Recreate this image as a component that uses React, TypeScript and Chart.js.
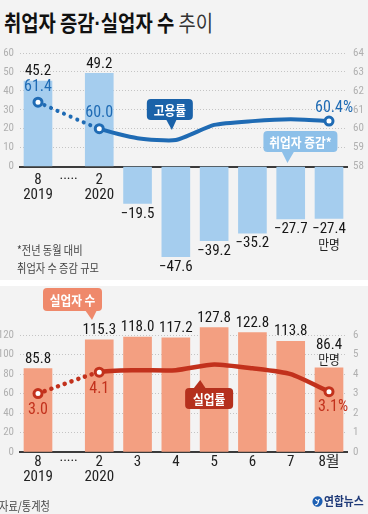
import React, { useEffect, useLayoutEffect, useRef } from 'react';
import { Chart, registerables } from 'chart.js';

Chart.register(...registerables);

// ---------------- data ----------------
const months = ['8', '2', '3', '4', '5', '6', '7', '8월'];
const years = ['2019', '2020', '', '', '', '', '', ''];
const gapLabel = '·····';
const employmentChange = [45.2, 49.2, -19.5, -47.6, -39.2, -35.2, -27.7, -27.4]; // 만명
const employmentRate = [61.4, 60.0, 59.5, 59.4, 60.2, 60.4, 60.5, 60.4]; // %
const unemployed = [85.8, 115.3, 118.0, 117.2, 127.8, 122.8, 113.8, 86.4]; // 만명
const unemploymentRate = [3.0, 4.1, 4.2, 4.2, 4.5, 4.3, 4.0, 3.1]; // %
const topLeftTicks = [0, 10, 20, 30, 40, 50, 60];
const topRightTicks = [58, 59, 60, 61, 62, 63, 64];
const bottomLeftTicks = [0, 20, 40, 60, 80, 100, 120];
const bottomRightTicks = [0, 1, 2, 3, 4, 5, 6];
const markedPoints = [0, 1, 7];

// ---------------- style ----------------
const NUM = "'Liberation Sans Narrow', 'Arial Narrow', 'Roboto Condensed', 'Noto Sans CJK KR', sans-serif";
const KR = "'Noto Sans CJK KR', 'Noto Sans', sans-serif";
const BLUE = '#1f6bb4';
const BAR_BLUE = '#a5cdee';
const CALL_BLUE_DARK = '#1a62a9';
const CALL_BLUE_LIGHT = '#8dc0e9';
const RED = '#c2311c';
const BAR_SALMON = '#f39f81';
const CALL_SALMON = '#ef896b';
const CALL_RED = '#b5301d';
const BG = '#f3f3f3';

// category index -> position on a linear axis (axis break after the first one)
const BREAK = 0.6;
const xOf = (i: number) => (i === 0 ? 0 : i + BREAK);
const gapX = (xOf(0) + xOf(1)) / 2;
const xTickValues = [xOf(0), gapX, ...months.slice(1).map((_, k) => xOf(k + 1))];

function xLabel(v: number): any {
  if (Math.abs(v - gapX) < 1e-6) return gapLabel;
  const i = months.findIndex((_, k) => Math.abs(xOf(k) - v) < 1e-6);
  if (i < 0) return '';
  return years[i] ? [months[i], years[i]] : months[i];
}

function fmt(v: number) {
  return v < 0 ? '\u2212' + Math.abs(v).toFixed(1) : v.toFixed(1);
}

function txt(ctx: CanvasRenderingContext2D, s: string, x: number, y: number, font: string, color: string, align: CanvasTextAlign = 'center', sx = 1) {
  ctx.save();
  ctx.font = font;
  ctx.fillStyle = color;
  ctx.textAlign = align;
  ctx.textBaseline = 'middle';
  ctx.translate(x, y);
  ctx.scale(sx, 1);
  ctx.fillText(s, 0, 0);
  ctx.restore();
}

function callout(ctx: CanvasRenderingContext2D, x: number, y: number, w: number, h: number, fill: string, label: string, tip: number[], base: number[]) {
  ctx.save();
  ctx.fillStyle = fill;
  ctx.beginPath();
  const r = 4;
  ctx.moveTo(x + r, y);
  ctx.arcTo(x + w, y, x + w, y + h, r);
  ctx.arcTo(x + w, y + h, x, y + h, r);
  ctx.arcTo(x, y + h, x, y, r);
  ctx.arcTo(x, y, x + w, y, r);
  ctx.closePath();
  ctx.fill();
  const by = tip[1] > y + h ? y + h - 1 : y + 1;
  ctx.beginPath();
  ctx.moveTo(base[0], by);
  ctx.lineTo(tip[0], tip[1]);
  ctx.lineTo(base[1], by);
  ctx.closePath();
  ctx.fill();
  ctx.restore();
  txt(ctx, label, x + w / 2, y + h / 2 + 0.5, `bold 13px ${KR}`, '#ffffff', 'center', 0.9);
}

function xScale(extra: any) {
  return {
    type: 'linear',
    min: -0.47,
    max: 8.07,
    offset: false,
    afterBuildTicks: (s: any) => {
      s.ticks = xTickValues.map((v) => ({ value: v }));
    },
    ticks: {
      autoSkip: false,
      maxRotation: 0,
      minRotation: 0,
      color: '#222',
      font: { family: NUM, size: 15, lineHeight: 1.0 },
      callback: (v: number) => xLabel(v),
      ...extra.ticks,
    },
    grid: { display: false, drawTicks: false },
    border: { display: true, color: '#3b3b3b', width: 2 },
    ...extra.rest,
  };
}

function yScale(pos: 'left' | 'right', min: number, max: number, shown: number[], width: number, grid: boolean) {
  return {
    type: 'linear',
    position: pos,
    min,
    max,
    afterBuildTicks: (s: any) => {
      s.ticks = shown.map((v) => ({ value: v }));
    },
    afterFit: (s: any) => {
      s.width = width;
    },
    ticks: {
      color: '#b0b0b0',
      font: { family: NUM, size: 11 },
      padding: 6,
    },
    grid: grid
      ? {
          drawTicks: false,
          lineWidth: 1,
          color: (c: any) => (c.tick && c.tick.value > shown[0] ? '#c4c4c4' : 'rgba(0,0,0,0)'),
        }
      : { display: false, drawTicks: false },
    border: { display: false, dash: [1, 2] },
  };
}

function lineDataset(values: number[], color: string, width: number) {
  return {
    type: 'line',
    data: values.map((v, i) => ({ x: xOf(i), y: v })),
    yAxisID: 'y1',
    borderColor: color,
    borderWidth: width,
    tension: 0.2,
    borderCapStyle: 'round',
    borderJoinStyle: 'round',
    pointRadius: (c: any) => (markedPoints.includes(c.dataIndex) ? 4 : 0),
    pointBackgroundColor: '#ffffff',
    pointBorderColor: color,
    pointBorderWidth: 3,
    segment: {
      borderDash: (c: any) => (c.p0DataIndex === 0 ? [0.1, 7] : undefined),
      borderCapStyle: (c: any) => (c.p0DataIndex === 0 ? 'round' : undefined),
    },
    order: 0,
  };
}

const topPlugin = {
  id: 'topLabels',
  afterDatasetsDraw(chart: any) {
    const ctx = chart.ctx as CanvasRenderingContext2D;
    const bars = chart.getDatasetMeta(0).data;
    bars.forEach((el: any, i: number) => {
      const v = employmentChange[i];
      if (v >= 0) {
        txt(ctx, fmt(v), el.x, el.y - 9.5, `15px ${NUM}`, '#161616');
      } else {
        txt(ctx, fmt(v), el.x, el.y + 10.5, `15px ${NUM}`, '#161616');
        if (i === bars.length - 1) txt(ctx, '만명', el.x, el.y + 26, `13px ${KR}`, '#222', 'center', 0.9);
      }
    });
    const pts = chart.getDatasetMeta(1).data;
    const lf = `16px ${NUM}`;
    txt(ctx, employmentRate[0].toFixed(1), pts[0].x, pts[0].y - 15, lf, BLUE);
    txt(ctx, employmentRate[1].toFixed(1), pts[1].x, pts[1].y - 16, lf, BLUE);
    txt(ctx, employmentRate[7].toFixed(1) + '%', pts[7].x + 5, pts[7].y - 13, lf, BLUE);
  },
  afterDraw(chart: any) {
    const ctx = chart.ctx as CanvasRenderingContext2D;
    const xs = chart.scales.x;
    const px = (i: number) => xs.getPixelForValue(xOf(i));
    const a = px(3) - 29;
    callout(ctx, a, 59, 46, 21, CALL_BLUE_DARK, '고용률', [a + 25, 90], [a + 19, a + 30]);
    const b = px(5) + 11;
    callout(ctx, b, 91, 74, 21, CALL_BLUE_LIGHT, '취업자 증감*', [b + 24, 123], [b + 18, b + 31]);
    txt(ctx, '*전년 동월 대비', 17, 210, `12px ${KR}`, '#444', 'left', 0.85);
    txt(ctx, '취업자 수 증감 규모', 17, 228, `12px ${KR}`, '#444', 'left', 0.85);
  },
};

const bottomPlugin = {
  id: 'bottomLabels',
  afterDatasetsDraw(chart: any) {
    const ctx = chart.ctx as CanvasRenderingContext2D;
    const bars = chart.getDatasetMeta(0).data;
    bars.forEach((el: any, i: number) => {
      const v = unemployed[i];
      if (i === bars.length - 1) {
        txt(ctx, fmt(v), el.x, el.y - 23, `15px ${NUM}`, '#161616');
        txt(ctx, '만명', el.x, el.y - 8.5, `13px ${KR}`, '#222', 'center', 0.9);
      } else {
        txt(ctx, fmt(v), el.x, el.y - 9.5, `15px ${NUM}`, '#161616');
      }
    });
    const pts = chart.getDatasetMeta(1).data;
    const lf = `16px ${NUM}`;
    txt(ctx, unemploymentRate[0].toFixed(1), pts[0].x, pts[0].y + 16, lf, RED);
    txt(ctx, unemploymentRate[1].toFixed(1), pts[1].x, pts[1].y + 17, lf, RED);
    txt(ctx, unemploymentRate[7].toFixed(1) + '%', pts[7].x + 4, pts[7].y + 15, lf, RED);
  },
  afterDraw(chart: any) {
    const ctx = chart.ctx as CanvasRenderingContext2D;
    const xs = chart.scales.x;
    const px = (i: number) => xs.getPixelForValue(xOf(i));
    const a = px(0) + 5;
    callout(ctx, a, 2, 59, 23, CALL_SALMON, '실업자 수', [a + 49, 34], [a + 42, a + 54]);
    const b = px(4) - 29;
    callout(ctx, b, 102, 48, 21, CALL_RED, '실업률', [b + 15, 94], [b + 8, b + 21]);
  },
};

function useChart(ref: React.RefObject<HTMLCanvasElement>, make: () => any) {
  useEffect(() => {
    if (!ref.current) return;
    const chart = new Chart(ref.current, make());
    return () => chart.destroy();
  }, []);
}

export default function App() {
  const topRef = useRef<HTMLCanvasElement>(null);
  const botRef = useRef<HTMLCanvasElement>(null);
  const titleRef = useRef<HTMLSpanElement>(null);

  useLayoutEffect(() => {
    document.body.style.margin = '0';
    document.body.style.background = BG;
    const el = titleRef.current;
    if (el) {
      const w = el.offsetWidth;
      if (w > 0) el.style.transform = `scaleX(${209 / w})`;
    }
  }, []);

  useChart(topRef, () => ({
    type: 'bar',
    data: {
      datasets: [
        {
          type: 'bar',
          data: employmentChange.map((v, i) => ({ x: xOf(i), y: v })),
          backgroundColor: BAR_BLUE,
          barThickness: 28,
          yAxisID: 'y',
          order: 1,
        },
        lineDataset(employmentRate, BLUE, 4),
      ],
    },
    options: {
      responsive: false,
      maintainAspectRatio: false,
      animation: false,
      events: [],
      layout: { padding: { top: 13, left: 0, right: 0, bottom: 0 } },
      plugins: { legend: { display: false }, tooltip: { enabled: false } },
      scales: {
        x: xScale({ ticks: { padding: 6 }, rest: { position: { y: 0 }, z: 1 } }),
        y: yScale('left', -57, 60, topLeftTicks, 20, true),
        y1: yScale('right', 52.3, 64, topRightTicks, 21, false),
      },
    },
    plugins: [topPlugin],
  }));

  useChart(botRef, () => ({
    type: 'bar',
    data: {
      datasets: [
        {
          type: 'bar',
          data: unemployed.map((v, i) => ({ x: xOf(i), y: v })),
          backgroundColor: BAR_SALMON,
          barThickness: 28,
          yAxisID: 'y',
          order: 1,
        },
        lineDataset(unemploymentRate, RED, 4.5),
      ],
    },
    options: {
      responsive: false,
      maintainAspectRatio: false,
      animation: false,
      events: [],
      layout: { padding: { top: 20, left: 0, right: 0, bottom: 0 } },
      plugins: { legend: { display: false }, tooltip: { enabled: false } },
      scales: {
        x: xScale({
          ticks: { padding: 3 },
          rest: {
            position: 'bottom',
            afterFit: (s: any) => {
              s.height = 34;
            },
          },
        }),
        y: yScale('left', 0, 150, bottomLeftTicks, 20, true),
        y1: yScale('right', 0, 7.5, bottomRightTicks, 21, false),
      },
    },
    plugins: [bottomPlugin],
  }));

  return (
    <div style={{ position: 'relative', width: 368, height: 514, background: BG, overflow: 'hidden', fontFamily: KR }}>
      <div style={{ position: 'absolute', left: 4, top: 10, whiteSpace: 'nowrap', lineHeight: 1 }}>
        <span ref={titleRef} style={{ display: 'inline-block', transformOrigin: 'left center', fontSize: 22, color: '#111' }}>
          <span style={{ fontWeight: 700 }}>
            취업자 증감<span style={{ fontFamily: "'Liberation Sans', sans-serif" }}>·</span>실업자 수
          </span>
          <span style={{ fontWeight: 400, color: '#333' }}> 추이</span>
        </span>
      </div>
      <div style={{ position: 'absolute', left: 0, top: 280, width: 368, height: 6, background: '#ffffff' }} />
      <canvas ref={topRef} width={368} height={247} style={{ position: 'absolute', left: 0, top: 40, width: 368, height: 247 }} />
      <canvas ref={botRef} width={368} height={200} style={{ position: 'absolute', left: 0, top: 286, width: 368, height: 200 }} />
      <div style={{ position: 'absolute', left: -1, top: 500, fontSize: 12, color: '#444', whiteSpace: 'nowrap', lineHeight: 1, transform: 'scaleX(0.85)', transformOrigin: 'left center' }}>
        자료/통계청
      </div>
      <div style={{ position: 'absolute', left: 312, top: 495, display: 'flex', alignItems: 'center', whiteSpace: 'nowrap' }}>
        <svg width={11} height={11} viewBox="0 0 11 11" style={{ marginRight: 1 }}>
          <ellipse cx={5.5} cy={5.5} rx={5} ry={5.3} fill="#1d5fb3" transform="rotate(20 5.5 5.5)" />
          <path d="M3.5 3 Q5.5 7 7.5 3 M6.6 5 Q6 9 3.2 8.6" stroke="#ffffff" strokeWidth={1.2} fill="none" />
        </svg>
        <span style={{ fontSize: 12, fontWeight: 700, color: '#1f3a78', lineHeight: 1, display: 'inline-block', transform: 'scaleX(0.9)', transformOrigin: 'left center' }}>
          연합뉴스
        </span>
      </div>
    </div>
  );
}
